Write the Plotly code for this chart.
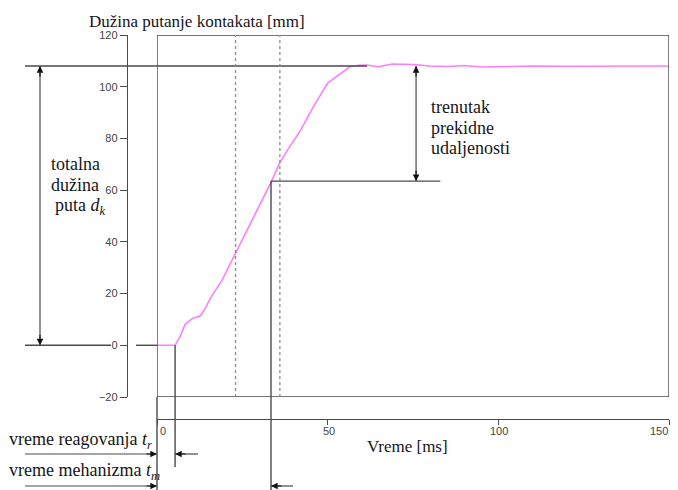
import plotly.graph_objects as go

# ---------------- data ----------------
time_ms = [0, 5.3, 7, 8.2, 10.5, 12.6, 14, 16, 19, 23, 27, 30.7, 33.4, 36, 38, 42,
           45.7, 50, 52.7, 56.5, 59, 61.5, 64.8, 69, 75, 80, 85, 90, 95, 100, 110,
           120, 130, 140, 150]
travel_mm = [0, 0, 4, 8, 10.5, 11.3, 14, 19, 25, 35.4, 46, 56, 63, 70.7, 75, 83,
             92, 101.4, 104, 107.7, 108.3, 108.4, 107.7, 108.8, 108.6, 108, 107.8,
             108.2, 107.6, 107.8, 108, 107.9, 108, 108.1, 108]
y_ticks = [-20, 0, 20, 40, 60, 80, 100, 120]
x_ticks = [0, 50, 100, 150]
x_tick_labels = ["0", "50", "100", "150"]
T_R = 5.3          # vreme reagovanja
T_M = 33.4         # vreme mehanizma
D_TOTAL = 108      # totalna duzina puta
Y_BREAK = 63.5     # trenutak prekidne udaljenosti
DOTTED_T = [23, 36]
BREAK_LINE_END = 83
TOTAL_LINE_END = 61.5
RIGHT_ARROW_T = 75.9

# ---------------- layout geometry ----------------
WIN_W, WIN_H = 678, 490
OFF = 8                       # default page body margin
W, H = WIN_W - OFF, WIN_H - OFF
XR = [0, 150]
YR = [-20, 120]


def px(xpix):
    return (xpix - OFF) / W


def py(ypix):
    return 1 - (ypix - OFF) / H


XD = [px(157), px(669)]
YD = [py(397), py(35)]


def xp(t):
    return XD[0] + (t - XR[0]) / (XR[1] - XR[0]) * (XD[1] - XD[0])


def yp(v):
    return YD[0] + (v - YR[0]) / (YR[1] - YR[0]) * (YD[1] - YD[0])


LINE = "#4a4a4a"
TXT = "#151520"
SERIF = "Liberation Serif, Times New Roman, serif"
SANS = "Liberation Sans, Arial, sans-serif"

fig = go.Figure()
fig.add_trace(go.Scatter(x=time_ms, y=travel_mm, mode="lines",
                         line=dict(color="#ff7dff", width=1.6),
                         hoverinfo="skip", showlegend=False))

shapes = []


def seg(x0, y0, x1, y1, color=LINE, width=1.4, dash="solid"):
    shapes.append(dict(type="line", xref="paper", yref="paper",
                       x0=x0, y0=y0, x1=x1, y1=y1,
                       line=dict(color=color, width=width, dash=dash)))


BOTTOM = py(WIN_H)

# plot box
shapes.append(dict(type="rect", xref="x", yref="y", x0=XR[0], x1=XR[1],
                   y0=YR[0], y1=YR[1], line=dict(color=LINE, width=1.4)))
# box left edge extension downwards
seg(xp(0), yp(YR[0]), xp(0), BOTTOM)
# total travel level line
seg(px(25), yp(D_TOTAL), xp(TOTAL_LINE_END), yp(D_TOTAL))
# zero level line (broken by the 0 label)
seg(px(25), yp(0), px(111), yp(0))
seg(px(136), yp(0), xp(0), yp(0))
# left double arrow shaft
seg(px(40), yp(0), px(40), yp(D_TOTAL), width=1.2)
# reaction time vertical
seg(xp(T_R), yp(0), xp(T_R), py(467))
# mechanism time vertical
seg(xp(T_M), yp(Y_BREAK), xp(T_M), BOTTOM)
# break level horizontal
seg(xp(T_M), yp(Y_BREAK), xp(BREAK_LINE_END), yp(Y_BREAK))
# right double arrow shaft
seg(xp(RIGHT_ARROW_T), yp(Y_BREAK), xp(RIGHT_ARROW_T), yp(D_TOTAL), width=1.2)
# dotted verticals
for t in DOTTED_T:
    seg(xp(t), yp(YR[0]), xp(t), yp(YR[1]), color="#8c8c8c", width=1.3, dash="dot")
# bottom arrows shafts
seg(px(25), py(454), xp(0), py(454), width=1.2)
seg(xp(T_R), py(454), px(198), py(454), width=1.2)
seg(px(25), py(486), xp(0), py(486), width=1.2)
seg(xp(T_M), py(486), px(293), py(486), width=1.2)

annotations = []


def head(x, y, ax, ay):
    annotations.append(dict(xref="paper", yref="paper", x=x, y=y, ax=ax, ay=ay,
                            text="", showarrow=True, arrowhead=2, arrowsize=1.1,
                            arrowwidth=1.2, arrowcolor="#111"))


head(px(40), yp(D_TOTAL), 0, 12)
head(px(40), yp(0), 0, -12)
head(xp(RIGHT_ARROW_T), yp(D_TOTAL), 0, 12)
head(xp(RIGHT_ARROW_T), yp(Y_BREAK), 0, -12)
head(xp(0), py(454), -12, 0)
head(xp(T_R), py(454), 12, 0)
head(xp(0), py(486), -12, 0)
head(xp(T_M), py(486), 12, 0)


def label(text, x, y, xanchor="left", size=18, font=SERIF):
    annotations.append(dict(xref="paper", yref="paper", x=x, y=y, text=text,
                            showarrow=False, xanchor=xanchor, yanchor="middle",
                            align="left", font=dict(family=font, size=size, color=TXT)))


label("Dužina putanje kontakata [mm]", px(197), py(21), xanchor="center", size=17)
label("totalna", px(49), py(164))
label("dužina", px(49), py(185))
label("puta <i>d<sub>k</sub></i>", px(53), py(206))
label("trenutak", px(429), py(107))
label("prekidne", px(429), py(128))
label("udaljenosti", px(429), py(148))
label("vreme reagovanja <i>t<sub>r</sub></i>", px(7), py(440))
label("vreme mehanizma <i>t<sub>m</sub></i>", px(7), py(471))
label("Vreme [ms]", px(407), py(446), xanchor="center", size=17)

# x tick labels (drawn at the axis tick values)
for i, (tv, tt) in enumerate(zip(x_ticks, x_tick_labels)):
    if i == 0:
        anchor, shift = "left", 1
    elif i == len(x_ticks) - 1:
        anchor, shift = "right", 1
    else:
        anchor, shift = "center", 1
    annotations.append(dict(xref="x", yref="paper", x=tv, y=py(431), text=tt,
                            showarrow=False, xanchor=anchor, yanchor="middle",
                            xshift=shift,
                            font=dict(family=SANS, size=11, color="#444")))

fig.update_layout(
    width=W, height=H, autosize=False,
    margin=dict(l=0, r=0, t=0, b=0, pad=0),
    paper_bgcolor="white", plot_bgcolor="white",
    shapes=shapes, annotations=annotations,
    xaxis=dict(domain=XD, range=XR, anchor="free", position=py(419),
               automargin=False, showticklabels=False,
               tickvals=x_ticks, ticks="outside", ticklen=5, tickwidth=1.3,
               tickcolor=LINE, showline=True, linecolor=LINE, linewidth=1.4,
               showgrid=False, zeroline=False),
    yaxis=dict(domain=YD, range=YR, anchor="free", position=px(127),
               automargin=False, ticklabeloverflow="allow",
               tickvals=y_ticks, ticks="outside", ticklen=7, tickwidth=1.3,
               tickcolor=LINE, showline=True, linecolor=LINE, linewidth=1.4,
               showgrid=False, zeroline=False,
               tickfont=dict(family=SANS, size=11, color="#444")),
)

fig.write_html("out.html")
